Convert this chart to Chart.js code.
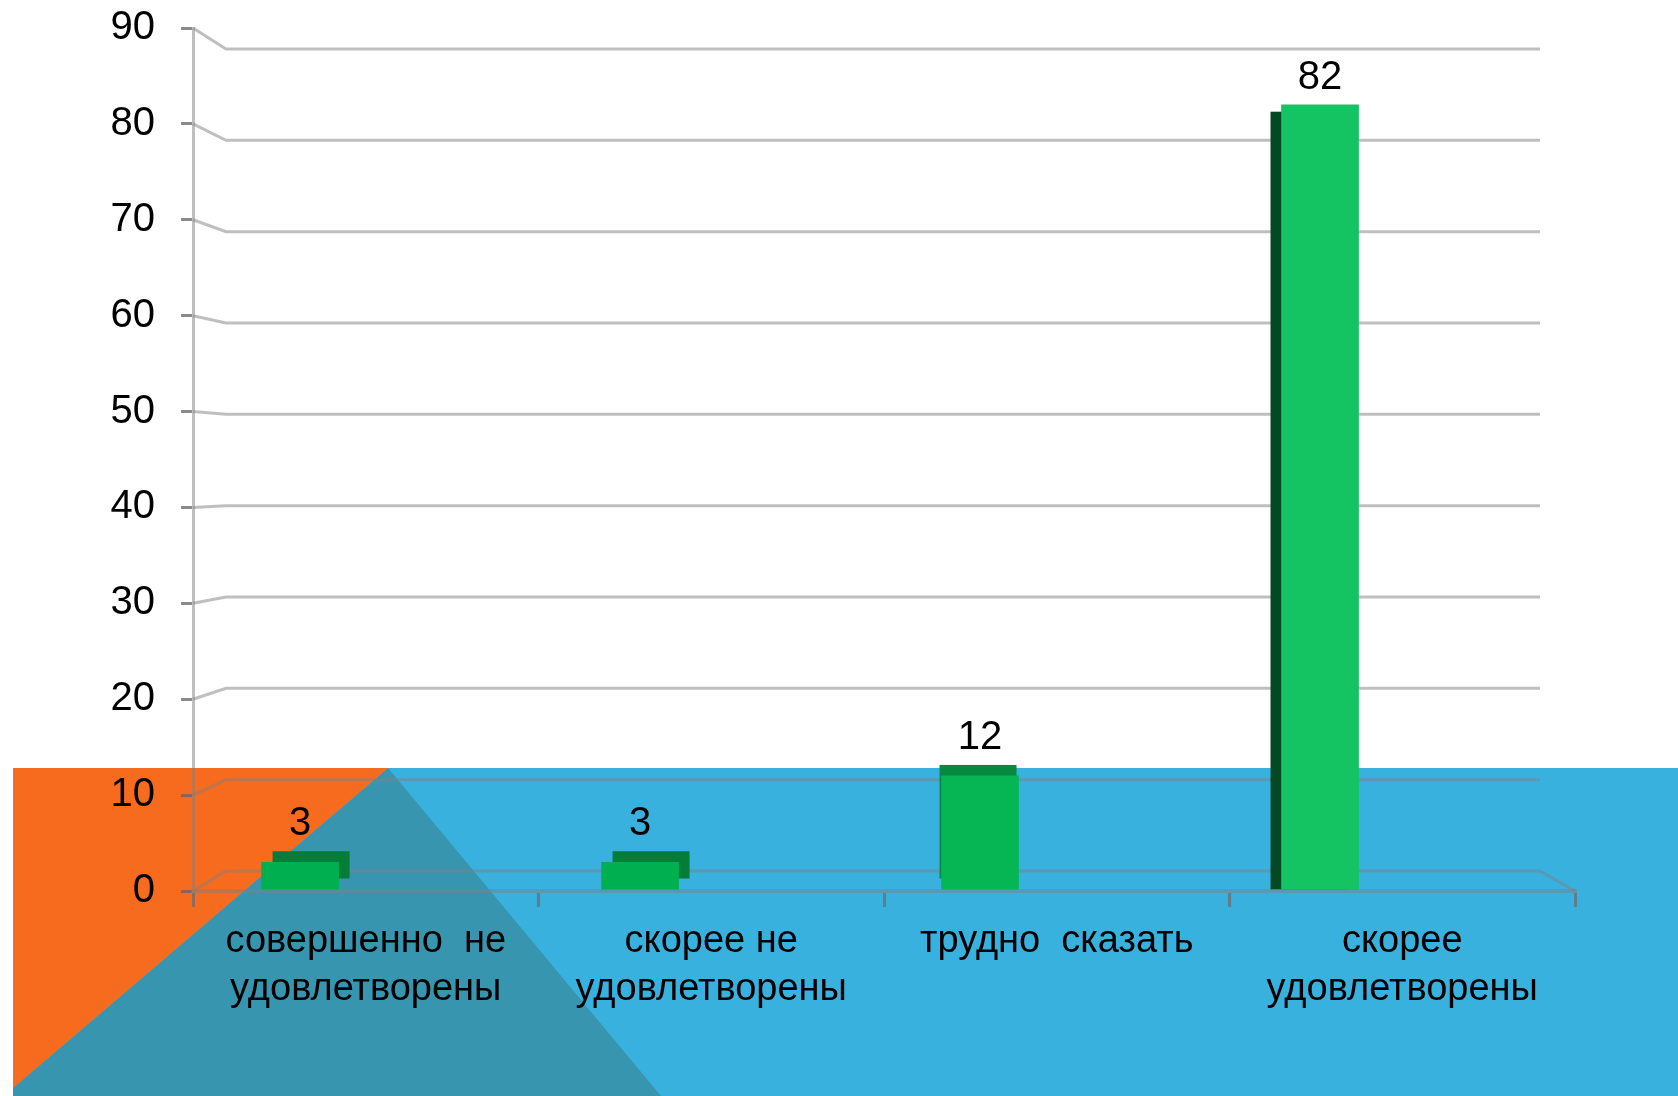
<!DOCTYPE html>
<html lang="ru">
<head>
<meta charset="utf-8">
<title>Удовлетворённость</title>
<script src="https://cdn.jsdelivr.net/npm/chart.js@4.4.1/dist/chart.umd.min.js"></script>
<style>
  html, body { margin: 0; padding: 0; background: #fff; }
  #wrap { width: 1678px; height: 1096px; }
</style>
</head>
<body>
<div id="wrap"><canvas id="chart" width="1678" height="1096"></canvas></div>
<script>
// Данные
const categories = [
    ['совершенно  не', 'удовлетворены'],
    ['скорее не', 'удовлетворены'],
    ['трудно  сказать'],
    ['скорее', 'удовлетворены']
];
const values = [3, 3, 12, 82];
const yTicks = [0, 10, 20, 30, 40, 50, 60, 70, 80, 90];

// Estilo (псевдо-3D)
const barColors = ['#00b050', '#00b050', '#06b655', '#14c462'];
const sideColors = ['#047d38', '#047d38', '#07893f', '#034a24'];
const sideShift = [[11, -11], [11, -11], [-2, -11], [-11, 7]];
const lineGray = 'rgba(128,128,128,0.5)';
const FONT = '"Liberation Sans", Arial, sans-serif';

// Фон слайда: оранжевый / бирюзовый / голубой
const slideBackground = {
    id: 'slideBackground',
    beforeDraw(chart) {
        const ctx = chart.ctx;
        ctx.save();
        ctx.fillStyle = '#39b1de';
        ctx.fillRect(13, 768, 1665, 328);
        ctx.fillStyle = '#3895b0';
        ctx.beginPath();
        ctx.moveTo(388, 768); ctx.lineTo(661, 1096); ctx.lineTo(13, 1096); ctx.lineTo(13, 1088);
        ctx.closePath(); ctx.fill();
        ctx.fillStyle = '#f76b1f';
        ctx.beginPath();
        ctx.moveTo(13, 768); ctx.lineTo(388, 768); ctx.lineTo(13, 1088);
        ctx.closePath(); ctx.fill();
        ctx.restore();
    }
};

// Задняя стенка, пол и боковые грани столбцов
const wall3d = {
    id: 'wall3d',
    beforeDatasetsDraw(chart) {
        const { ctx, chartArea: area, scales } = chart;
        const y = scales.y, yb = scales.yb;
        const depthX = 33, rightInset = 35;
        ctx.save();
        ctx.strokeStyle = lineGray;
        ctx.lineWidth = 3;
        yTicks.forEach(v => {
            const yf = y.getPixelForValue(v);
            const yk = yb.getPixelForValue(v);
            ctx.beginPath();
            ctx.moveTo(area.left, yf);
            ctx.lineTo(area.left + depthX, yk);
            ctx.lineTo(area.right - rightInset, yk);
            ctx.stroke();
        });
        ctx.beginPath();
        ctx.moveTo(area.right - rightInset, yb.getPixelForValue(0));
        ctx.lineTo(area.right, y.getPixelForValue(0));
        ctx.stroke();

        const meta = chart.getDatasetMeta(0);
        meta.data.forEach((bar, i) => {
            const [dx, dy] = sideShift[i];
            const y0 = bar.y + dy;
            const y1 = Math.min(bar.base + dy, bar.base);
            ctx.fillStyle = sideColors[i];
            ctx.fillRect(bar.x - bar.width / 2 + dx, y0, bar.width, y1 - y0);
        });
        ctx.restore();
    },
    afterDatasetsDraw(chart) {
        const ctx = chart.ctx;
        const meta = chart.getDatasetMeta(0);
        ctx.save();
        ctx.font = '40px ' + FONT;
        ctx.fillStyle = '#000';
        ctx.textAlign = 'center';
        ctx.textBaseline = 'alphabetic';
        meta.data.forEach((bar, i) => {
            const top = bar.y + Math.min(sideShift[i][1], 0);
            ctx.fillText(String(values[i]), bar.x, top - 16);
        });
        ctx.restore();
    }
};

const noPad = s => { s.paddingTop = 0; s.paddingBottom = 0; };

const ctx = document.getElementById('chart').getContext('2d');
new Chart(ctx, {
    type: 'bar',
    data: {
        labels: categories,
        datasets: [{
            data: values.map((v, i) => ({ x: i, y: v })),
            xAxisID: 'xb',
            yAxisID: 'y',
            backgroundColor: barColors,
            barThickness: 77,
            borderWidth: 0
        }]
    },
    plugins: [slideBackground, wall3d],
    options: {
        responsive: false,
        animation: false,
        layout: { padding: { top: 28, right: 103, left: 0, bottom: 0 } },
        plugins: { legend: { display: false }, tooltip: { enabled: false } },
        scales: {
            x: {
                type: 'category',
                position: 'bottom',
                offset: true,
                grid: { offset: true, drawOnChartArea: false, tickLength: 16, color: 'rgba(110,110,110,0.75)', lineWidth: 3, z: 1 },
                border: { color: lineGray, width: 4, z: 1 },
                ticks: { font: { family: FONT, size: 38, lineHeight: 1.26 }, color: '#000', padding: 11, maxRotation: 0, autoSkip: false },
                afterFit: s => { s.height = 205; noPad(s); }
            },
            xb: { type: 'linear', display: false, offset: false, min: -0.315, max: 3.75, afterFit: noPad },
            y: {
                position: 'left',
                min: 0,
                max: 90,
                afterBuildTicks: s => { s.ticks = yTicks.map(v => ({ value: v })); },
                grid: { drawOnChartArea: false, tickLength: 12, color: 'rgba(100,100,100,0.75)', lineWidth: 3 },
                border: { color: lineGray, width: 3 },
                ticks: { font: { family: FONT, size: 40 }, color: '#000', padding: 26 },
                afterFit: s => { s.width = 193; noPad(s); }
            },
            yb: { type: 'linear', position: 'left', display: false, min: -2.19, max: 92.3, afterFit: noPad }
        }
    }
});
</script>
</body>
</html>
